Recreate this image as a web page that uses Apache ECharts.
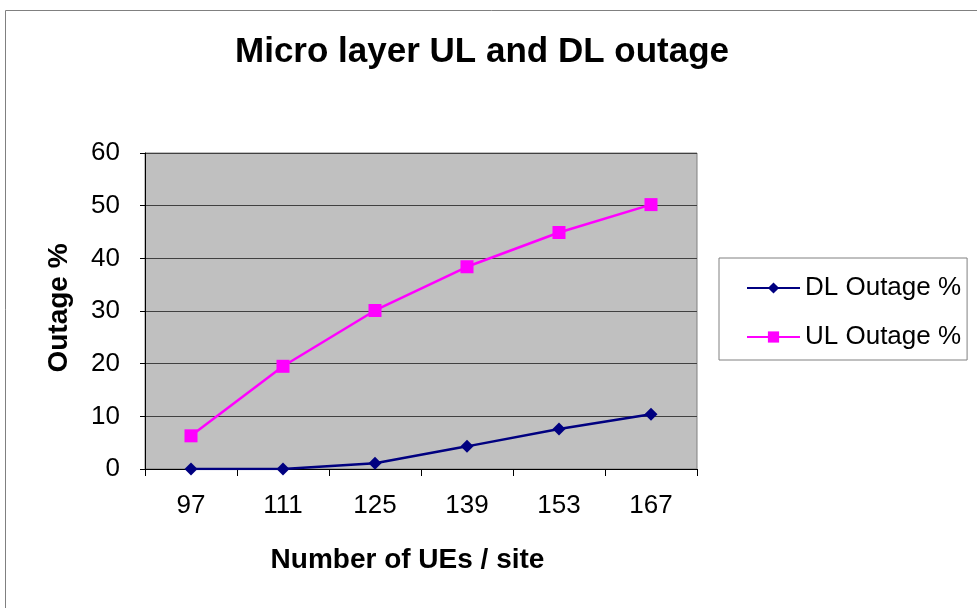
<!DOCTYPE html>
<html lang="en">
<head>
    <meta charset="UTF-8">
    <title>Micro layer UL and DL outage</title>
    <style>
        html, body { margin: 0; padding: 0; background: #fff; }
    </style>
</head>
<body>
<div id="chart-box" style="height:608px;width:977px"></div>
<script src="https://cdn.jsdelivr.net/npm/echarts@6/dist/echarts.min.js"></script>
<script>
// data
var categories = ['97', '111', '125', '139', '153', '167'];
var dlOutage = [0, 0, 1.1, 4.3, 7.6, 10.4];
var ulOutage = [6.3, 19.5, 30.1, 38.4, 44.9, 50.2];

var font = 'Arial, "Liberation Sans", sans-serif';

var option = {
    animation: false,
    backgroundColor: '#fff',
    title: {
        text: 'Micro layer UL and DL outage',
        left: 477,
        top: 30,
        textAlign: 'center',
        textStyle: { fontFamily: font, fontSize: 35, fontWeight: 'bold', color: '#000' }
    },
    graphic: [{
        type: 'rect',
        shape: { x: 5.5, y: 10.5, width: 1000, height: 700 },
        style: { fill: 'none', stroke: '#808080', lineWidth: 1 },
        silent: true
    }],
    legend: {
        orient: 'vertical',
        left: 719,
        top: 258,
        padding: [17, 6, 10, 27],
        itemGap: 23,
        itemWidth: 53,
        itemHeight: 14,
        borderColor: '#808080',
        borderWidth: 1,
        backgroundColor: '#fff',
        textStyle: { fontFamily: font, fontSize: 26, color: '#000' },
        data: ['DL Outage %', 'UL Outage %']
    },
    grid: {
        left: 145,
        top: 153,
        right: 280,
        bottom: 139,
        show: true,
        backgroundColor: '#c0c0c0',
        borderColor: '#808080',
        borderWidth: 1
    },
    xAxis: {
        type: 'category',
        data: categories,
        boundaryGap: true,
        name: 'Number of UEs / site',
        nameLocation: 'middle',
        nameGap: 77,
        nameTextStyle: { fontFamily: font, fontSize: 28, fontWeight: 'bold', color: '#000', padding: [0, 27, 0, 0] },
        axisLine: { lineStyle: { color: '#000', width: 1 } },
        axisTick: { show: true, length: 7, inside: false, lineStyle: { color: '#000' } },
        axisLabel: { fontFamily: font, fontSize: 26, color: '#000', margin: 24 },
        splitLine: { show: false }
    },
    yAxis: {
        type: 'value',
        min: 0,
        max: 60,
        interval: 10,
        name: 'Outage %',
        nameLocation: 'middle',
        nameGap: 72,
        nameRotate: 90,
        nameTextStyle: { fontFamily: font, fontSize: 28, fontWeight: 'bold', color: '#000', padding: [0, 0, 0, 6] },
        axisLine: { show: true, lineStyle: { color: '#000', width: 1 } },
        axisTick: { show: true, length: 5, lineStyle: { color: '#000' } },
        axisLabel: { fontFamily: font, fontSize: 26, color: '#000', margin: 25 },
        splitLine: { show: true, lineStyle: { color: '#404040', width: 1 } }
    },
    series: [
        {
            name: 'DL Outage %',
            type: 'line',
            data: dlOutage,
            symbol: 'diamond',
            symbolSize: 13,
            color: '#000080',
            lineStyle: { color: '#000080', width: 2.5 },
            itemStyle: { color: '#000080' }
        },
        {
            name: 'UL Outage %',
            type: 'line',
            data: ulOutage,
            symbol: 'rect',
            symbolSize: 13,
            color: '#ff00ff',
            lineStyle: { color: '#ff00ff', width: 2.5 },
            itemStyle: { color: '#ff00ff' }
        }
    ]
};

var yxChart = echarts.init(document.getElementById('chart-box'));
yxChart.setOption(option);
</script>
</body>
</html>
